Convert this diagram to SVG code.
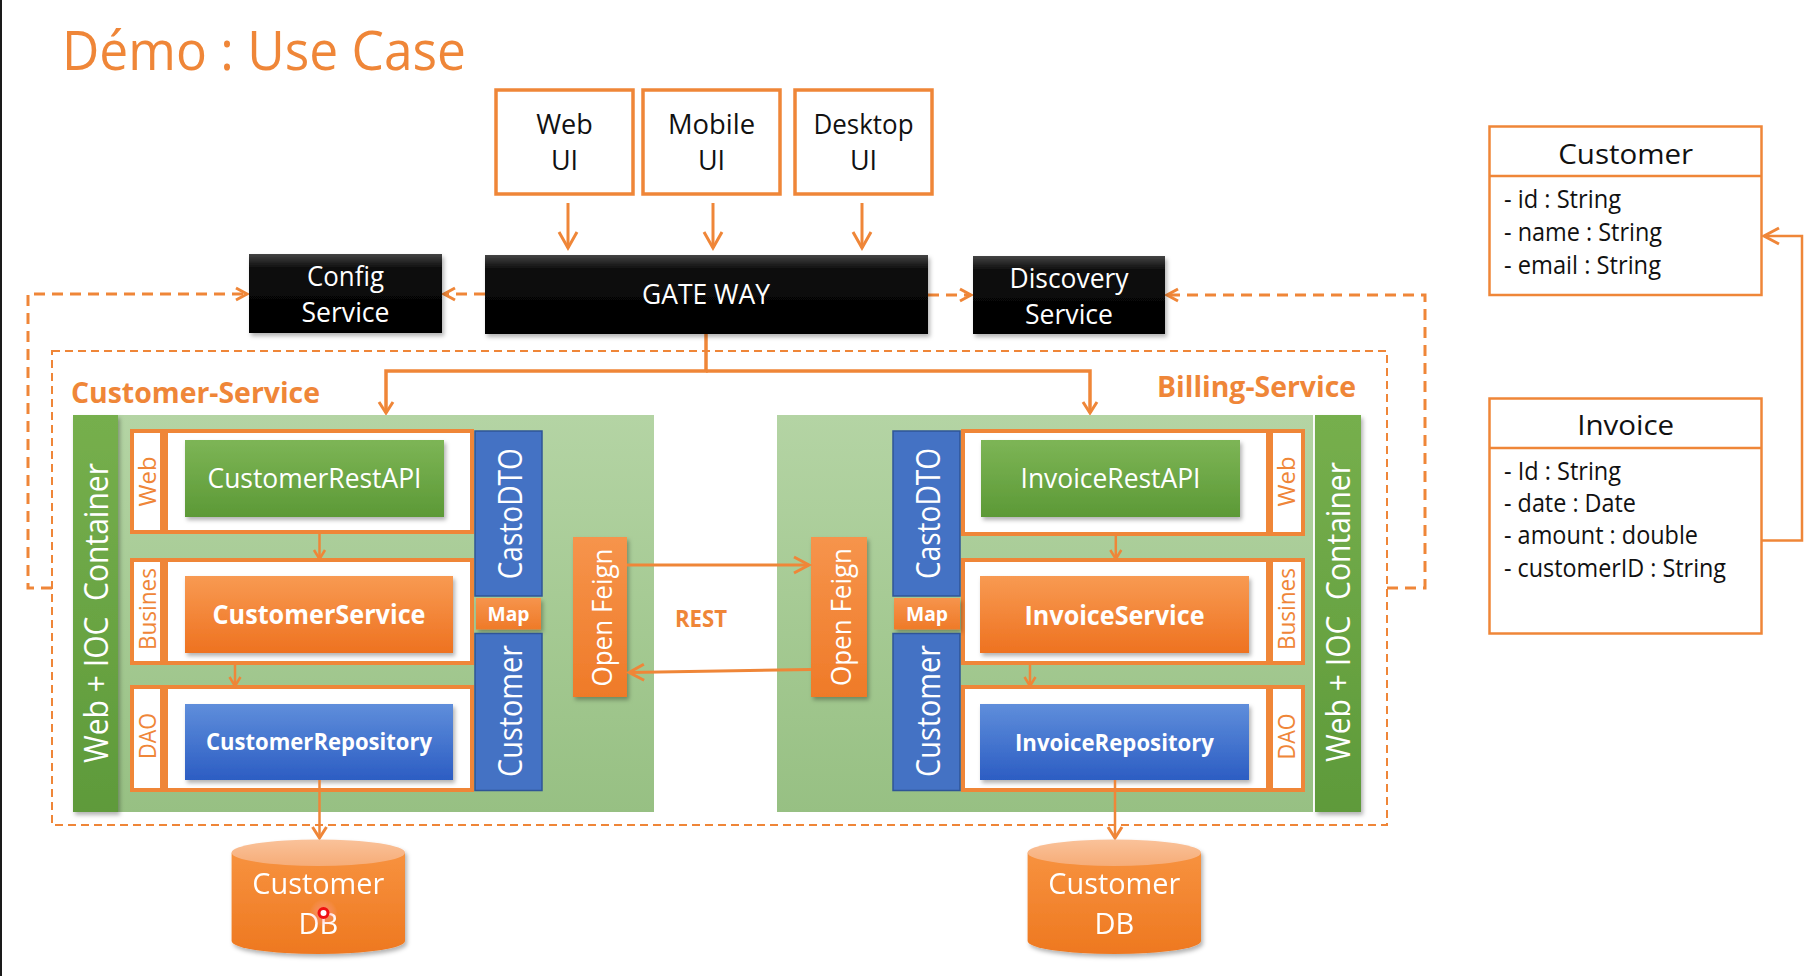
<svg xmlns="http://www.w3.org/2000/svg" width="1817" height="976" viewBox="0 0 1817 976">
<style>
text{font-family:"Open Sans","Liberation Sans",sans-serif}
.t{fill:#111;font-size:27px;text-anchor:middle}
.w{fill:#fff;text-anchor:middle}
.b{font-weight:700}
.lbl{fill:#EF8638;font-size:23px;text-anchor:middle}
.ln{fill:none;stroke:#EF8638;stroke-width:3}
.ln2{fill:none;stroke:#EF8638;stroke-width:2.5}
.ds{fill:none;stroke:#EF8638;stroke-width:3;stroke-dasharray:11 7}
.box{fill:#fff;stroke:#EF8638;stroke-width:3.5}
.row{fill:#fff;stroke:#EF8638;stroke-width:4}
.cls{fill:#fff;stroke:#EF8638;stroke-width:2.5}
.attr{fill:#111;font-size:25px}
.blk{fill:url(#gBlack)}
.mk{fill:none;stroke:#EF8638;stroke-linejoin:miter}
</style>
<defs>
<linearGradient id="gBlack" x1="0" y1="0" x2="0" y2="1"><stop offset="0" stop-color="#444"/><stop offset="0.18" stop-color="#0c0c0c"/><stop offset="1" stop-color="#000"/></linearGradient>
<linearGradient id="gPanel" x1="0" y1="0" x2="0" y2="1"><stop offset="0" stop-color="#B4D4A4"/><stop offset="1" stop-color="#97C083"/></linearGradient>
<linearGradient id="gBar" x1="0" y1="0" x2="0" y2="1"><stop offset="0" stop-color="#76AF4D"/><stop offset="1" stop-color="#5E9A3A"/></linearGradient>
<linearGradient id="gGreen" x1="0" y1="0" x2="0" y2="1"><stop offset="0" stop-color="#7DB556"/><stop offset="1" stop-color="#5C9936"/></linearGradient>
<linearGradient id="gOrange" x1="0" y1="0" x2="0" y2="1"><stop offset="0" stop-color="#F89A52"/><stop offset="1" stop-color="#EE7220"/></linearGradient>
<linearGradient id="gBlue" x1="0" y1="0" x2="0" y2="1"><stop offset="0" stop-color="#5F8EDB"/><stop offset="1" stop-color="#2C5DC3"/></linearGradient>
<linearGradient id="gOF" x1="0" y1="0" x2="0" y2="1"><stop offset="0" stop-color="#F6944C"/><stop offset="1" stop-color="#EF7A28"/></linearGradient>
<linearGradient id="gDB" x1="0" y1="0" x2="0" y2="1"><stop offset="0" stop-color="#F7923F"/><stop offset="1" stop-color="#EE7820"/></linearGradient>
<linearGradient id="gDBtop" x1="0" y1="0" x2="0" y2="1"><stop offset="0" stop-color="#FAC29A"/><stop offset="1" stop-color="#F6AC77"/></linearGradient>
<radialGradient id="gGlow"><stop offset="0" stop-color="#ff8080" stop-opacity="0.7"/><stop offset="1" stop-color="#ffb0b0" stop-opacity="0"/></radialGradient>
<filter id="sh" x="-10%" y="-10%" width="125%" height="130%"><feDropShadow dx="2" dy="3" stdDeviation="2" flood-color="#000" flood-opacity="0.3"/></filter>
<marker id="aL" markerUnits="userSpaceOnUse" markerWidth="22" markerHeight="24" viewBox="-3 -3 22 24" refX="16" refY="9" orient="auto" overflow="visible"><path class="mk" d="M0,0 L16,9 L0,18" stroke-width="3"/></marker>
<marker id="aR" markerUnits="userSpaceOnUse" markerWidth="20" markerHeight="22" viewBox="-3 -3 20 22" refX="15" refY="8" orient="auto" overflow="visible"><path class="mk" d="M0,0 L15,8 L0,16" stroke-width="3"/></marker>
<marker id="aM" markerUnits="userSpaceOnUse" markerWidth="18" markerHeight="18" viewBox="-3 -3 18 18" refX="11" refY="7" orient="auto" overflow="visible"><path class="mk" d="M0,0 L11,7 L0,14" stroke-width="3"/></marker>
<marker id="aS" markerUnits="userSpaceOnUse" markerWidth="16" markerHeight="16" viewBox="-3 -3 16 16" refX="9" refY="5.5" orient="auto" overflow="visible"><path class="mk" d="M0,0 L9,5.5 L0,11" stroke-width="2.5"/></marker>
<marker id="aD" markerUnits="userSpaceOnUse" markerWidth="18" markerHeight="18" viewBox="-3 -3 18 18" refX="11" refY="6" orient="auto" overflow="visible"><path class="mk" d="M0,0 L11,6 L0,12" stroke-width="3"/></marker>
</defs>
<rect width="1817" height="976" fill="#fff"/>
<rect x="0" y="0" width="2" height="976" fill="#1a1a1a"/>
<text id="title" x="62" y="70" font-size="54" fill="#EF8638" textLength="404" lengthAdjust="spacingAndGlyphs">Démo : Use Case</text>

<g id="connectors">
<path class="ln" d="M568,203 V248" marker-end="url(#aL)"/>
<path class="ln" d="M713,203 V248" marker-end="url(#aL)"/>
<path class="ln" d="M862,203 V248" marker-end="url(#aL)"/>
<path class="ds" d="M485,294 H444" marker-end="url(#aD)"/>
<path class="ds" d="M52,588 H28 V294 H247" marker-end="url(#aD)"/>
<path class="ds" d="M928,295 H971" marker-end="url(#aD)"/>
<path class="ds" d="M1387,588 H1425 V295 H1167" marker-end="url(#aD)"/>
<path fill="none" stroke="#EF8638" stroke-width="3.5" d="M706,334 V371 H386 V413" marker-end="url(#aM)"/>
<path fill="none" stroke="#EF8638" stroke-width="3.5" d="M706,371 H1090 V413" marker-end="url(#aM)"/>
</g>

<rect id="services-boundary" x="52" y="351" width="1335" height="474" fill="none" stroke="#EF8638" stroke-width="2" stroke-dasharray="8 5"/>

<g id="web-ui"><rect class="box" x="496" y="90" width="137" height="104"/><text class="t" x="564.5" y="134" font-size="28">Web</text><text class="t" x="564.5" y="170" font-size="28">UI</text></g>
<g id="mobile-ui"><rect class="box" x="643" y="90" width="137" height="104"/><text class="t" x="711.5" y="134" font-size="28" textLength="87" lengthAdjust="spacingAndGlyphs">Mobile</text><text class="t" x="711.5" y="170" font-size="28">UI</text></g>
<g id="desktop-ui"><rect class="box" x="795" y="90" width="137" height="104"/><text class="t" x="863.5" y="134" font-size="28" textLength="100" lengthAdjust="spacingAndGlyphs">Desktop</text><text class="t" x="863.5" y="170" font-size="28">UI</text></g>

<g id="gateway"><rect class="blk" x="485" y="255" width="443" height="79" filter="url(#sh)"/><text class="w" x="706" y="304" font-size="27" textLength="128" lengthAdjust="spacingAndGlyphs">GATE WAY</text></g>
<g id="config-service"><rect class="blk" x="249" y="254" width="193" height="79" filter="url(#sh)"/><text class="w" x="345.5" y="286" font-size="28" textLength="77" lengthAdjust="spacingAndGlyphs">Config</text><text class="w" x="345.5" y="322" font-size="28" textLength="88" lengthAdjust="spacingAndGlyphs">Service</text></g>
<g id="discovery-service"><rect class="blk" x="973" y="256" width="192" height="78" filter="url(#sh)"/><text class="w" x="1069" y="288" font-size="28" textLength="119" lengthAdjust="spacingAndGlyphs">Discovery</text><text class="w" x="1069" y="324" font-size="28" textLength="88" lengthAdjust="spacingAndGlyphs">Service</text></g>

<text id="lbl-customer-service" class="b" x="71" y="403" font-size="29" fill="#EF8638" textLength="249" lengthAdjust="spacingAndGlyphs">Customer-Service</text>
<text id="lbl-billing-service" class="b" x="1157" y="397" font-size="28" fill="#EF8638" textLength="199" lengthAdjust="spacingAndGlyphs">Billing-Service</text>

<g id="customer-service">
<rect x="73" y="415" width="581" height="397" fill="url(#gPanel)"/>
<rect x="73" y="415" width="45" height="397" fill="url(#gBar)" filter="url(#sh)"/>
<text class="w" transform="translate(107.5,613) rotate(-90)" font-size="32" textLength="300" lengthAdjust="spacingAndGlyphs" style="white-space:pre">Web + IOC  Container</text>
<rect class="row" x="132" y="431" width="30" height="101"/><rect class="row" x="166" y="431" width="306" height="101"/>
<rect class="row" x="132" y="560" width="30" height="103"/><rect class="row" x="166" y="560" width="306" height="103"/>
<rect class="row" x="132" y="687" width="30" height="103"/><rect class="row" x="166" y="687" width="306" height="103"/>
<text class="lbl" transform="translate(155.5,481.5) rotate(-90)" textLength="50" lengthAdjust="spacingAndGlyphs">Web</text>
<text class="lbl" transform="translate(155.5,609) rotate(-90)" textLength="82" lengthAdjust="spacingAndGlyphs">Busines</text>
<text class="lbl" transform="translate(155.5,736) rotate(-90)" textLength="46" lengthAdjust="spacingAndGlyphs">DAO</text>
<rect x="185" y="440" width="259" height="77" fill="url(#gGreen)" filter="url(#sh)"/>
<text class="w" x="314.5" y="488" font-size="27" textLength="214" lengthAdjust="spacingAndGlyphs">CustomerRestAPI</text>
<rect x="185" y="576" width="268" height="77" fill="url(#gOrange)" filter="url(#sh)"/>
<text class="w b" x="319" y="624" font-size="26" textLength="213" lengthAdjust="spacingAndGlyphs">CustomerService</text>
<rect x="185" y="704" width="268" height="76" fill="url(#gBlue)" filter="url(#sh)"/>
<text class="w b" x="319" y="750" font-size="23" textLength="226" lengthAdjust="spacingAndGlyphs">CustomerRepository</text>
<rect x="475" y="431" width="67" height="165" fill="#4472C4" stroke="#2F5597" stroke-width="1.5"/>
<text class="w" transform="translate(521.5,513.8) rotate(-90)" font-size="32" textLength="131" lengthAdjust="spacingAndGlyphs">CastoDTO</text>
<rect x="476" y="598" width="65" height="31.5" fill="url(#gOF)" filter="url(#sh)"/>
<text class="w b" x="508.5" y="620.5" font-size="19" textLength="42" lengthAdjust="spacingAndGlyphs">Map</text>
<rect x="475" y="633.5" width="67" height="157" fill="#4472C4" stroke="#2F5597" stroke-width="1.5"/>
<text class="w" transform="translate(521.5,711) rotate(-90)" font-size="32" textLength="132" lengthAdjust="spacingAndGlyphs">Customer</text>
<rect x="573" y="537" width="54" height="160" fill="url(#gOF)" filter="url(#sh)"/>
<text class="w" transform="translate(611.5,617.5) rotate(-90)" font-size="28" textLength="138" lengthAdjust="spacingAndGlyphs">Open Feign</text>
<path class="ln2" d="M319.5,532 V559" marker-end="url(#aS)"/>
<path class="ln2" d="M235,663 V686" marker-end="url(#aS)"/>
</g>

<g id="billing-service">
<rect x="777" y="415" width="536" height="397" fill="url(#gPanel)"/>
<rect x="1315" y="415" width="46" height="397" fill="url(#gBar)" filter="url(#sh)"/>
<text class="w" transform="translate(1349.5,612) rotate(-90)" font-size="32" textLength="300" lengthAdjust="spacingAndGlyphs" style="white-space:pre">Web + IOC  Container</text>
<rect class="row" x="963" y="431" width="305" height="103"/><rect class="row" x="1271" y="431" width="32" height="103"/>
<rect class="row" x="963" y="560" width="305" height="103"/><rect class="row" x="1271" y="560" width="32" height="103"/>
<rect class="row" x="963" y="687" width="305" height="103"/><rect class="row" x="1271" y="687" width="32" height="103"/>
<text class="lbl" transform="translate(1295,481.5) rotate(-90)" textLength="50" lengthAdjust="spacingAndGlyphs">Web</text>
<text class="lbl" transform="translate(1295,609) rotate(-90)" textLength="82" lengthAdjust="spacingAndGlyphs">Busines</text>
<text class="lbl" transform="translate(1295,736.5) rotate(-90)" textLength="46" lengthAdjust="spacingAndGlyphs">DAO</text>
<rect x="981" y="440" width="259" height="77" fill="url(#gGreen)" filter="url(#sh)"/>
<text class="w" x="1110.5" y="488" font-size="27" textLength="180" lengthAdjust="spacingAndGlyphs">InvoiceRestAPI</text>
<rect x="980" y="576" width="269" height="77" fill="url(#gOrange)" filter="url(#sh)"/>
<text class="w b" x="1114.5" y="625" font-size="26" textLength="180" lengthAdjust="spacingAndGlyphs">InvoiceService</text>
<rect x="980" y="704" width="269" height="76" fill="url(#gBlue)" filter="url(#sh)"/>
<text class="w b" x="1114.5" y="751" font-size="23" textLength="199" lengthAdjust="spacingAndGlyphs">InvoiceRepository</text>
<rect x="893" y="431" width="67" height="165" fill="#4472C4" stroke="#2F5597" stroke-width="1.5"/>
<text class="w" transform="translate(939.5,513.5) rotate(-90)" font-size="32" textLength="131" lengthAdjust="spacingAndGlyphs">CastoDTO</text>
<rect x="894" y="598" width="66" height="31.5" fill="url(#gOF)" filter="url(#sh)"/>
<text class="w b" x="927" y="620.5" font-size="19" textLength="42" lengthAdjust="spacingAndGlyphs">Map</text>
<rect x="893" y="633.5" width="67" height="157" fill="#4472C4" stroke="#2F5597" stroke-width="1.5"/>
<text class="w" transform="translate(939.5,711) rotate(-90)" font-size="32" textLength="132" lengthAdjust="spacingAndGlyphs">Customer</text>
<rect x="811" y="537" width="56" height="160" fill="url(#gOF)" filter="url(#sh)"/>
<text class="w" transform="translate(850.5,617) rotate(-90)" font-size="28" textLength="138" lengthAdjust="spacingAndGlyphs">Open Feign</text>
<path class="ln2" d="M1115.8,534 V559" marker-end="url(#aS)"/>
<path class="ln2" d="M1030,663 V686" marker-end="url(#aS)"/>
</g>

<g id="rest-connectors">
<path class="ln" d="M627,565 H809" marker-end="url(#aR)"/>
<path class="ln" d="M811,669.5 L629,672.5" marker-end="url(#aR)"/>
<text class="b" x="675" y="627" font-size="23" fill="#EF8638" textLength="52" lengthAdjust="spacingAndGlyphs">REST</text>
<path class="ln2" d="M319.5,780 V838" marker-end="url(#aM)"/>
<path class="ln2" d="M1115,780 V838" marker-end="url(#aM)"/>
</g>

<g id="customer-db-1" filter="url(#sh)">
<path d="M231.6,852.7 V941 A86.7,13 0 0 0 405,941 V852.7 Z" fill="url(#gDB)"/>
<ellipse cx="318.3" cy="852.7" rx="86.7" ry="13.3" fill="url(#gDBtop)"/>
<text class="w" x="318.3" y="894" font-size="29" textLength="132" lengthAdjust="spacingAndGlyphs">Customer</text>
<text class="w" x="318.3" y="934" font-size="29">DB</text>
</g>
<g id="cursor"><circle cx="323.5" cy="913" r="14" fill="url(#gGlow)"/><circle cx="323.5" cy="913" r="4.5" fill="#fff" stroke="#f01010" stroke-width="3"/></g>
<g id="customer-db-2" filter="url(#sh)">
<path d="M1027.6,852.7 V941 A86.7,13 0 0 0 1201,941 V852.7 Z" fill="url(#gDB)"/>
<ellipse cx="1114.3" cy="852.7" rx="86.7" ry="13.3" fill="url(#gDBtop)"/>
<text class="w" x="1114.3" y="894" font-size="29" textLength="132" lengthAdjust="spacingAndGlyphs">Customer</text>
<text class="w" x="1114.3" y="934" font-size="29">DB</text>
</g>

<g id="class-customer">
<rect class="cls" x="1489.5" y="126.5" width="272" height="168.5"/>
<line x1="1489.5" y1="176" x2="1761.5" y2="176" stroke="#EF8638" stroke-width="2.5"/>
<text class="t" x="1625.7" y="164" font-size="31" textLength="135" lengthAdjust="spacingAndGlyphs">Customer</text>
<text class="attr" x="1504" y="208" textLength="117" lengthAdjust="spacingAndGlyphs">- id : String</text>
<text class="attr" x="1504" y="241" textLength="158" lengthAdjust="spacingAndGlyphs">- name : String</text>
<text class="attr" x="1504" y="273.6" textLength="157" lengthAdjust="spacingAndGlyphs">- email : String</text>
</g>
<g id="class-invoice">
<rect class="cls" x="1489.5" y="398.5" width="272" height="235"/>
<line x1="1489.5" y1="448" x2="1761.5" y2="448" stroke="#EF8638" stroke-width="2.5"/>
<text class="t" x="1625.7" y="435.4" font-size="31" textLength="97" lengthAdjust="spacingAndGlyphs">Invoice</text>
<text class="attr" x="1504" y="480.2" textLength="117" lengthAdjust="spacingAndGlyphs">- Id : String</text>
<text class="attr" x="1504" y="512.2" textLength="132" lengthAdjust="spacingAndGlyphs">- date : Date</text>
<text class="attr" x="1504" y="543.9" textLength="194" lengthAdjust="spacingAndGlyphs">- amount : double</text>
<text class="attr" x="1504" y="576.6" textLength="222" lengthAdjust="spacingAndGlyphs">- customerID : String</text>
</g>
<g id="class-connector"><path class="ln2" d="M1762,540.4 H1802 V236 H1764" marker-end="url(#aR)"/></g>
</svg>
